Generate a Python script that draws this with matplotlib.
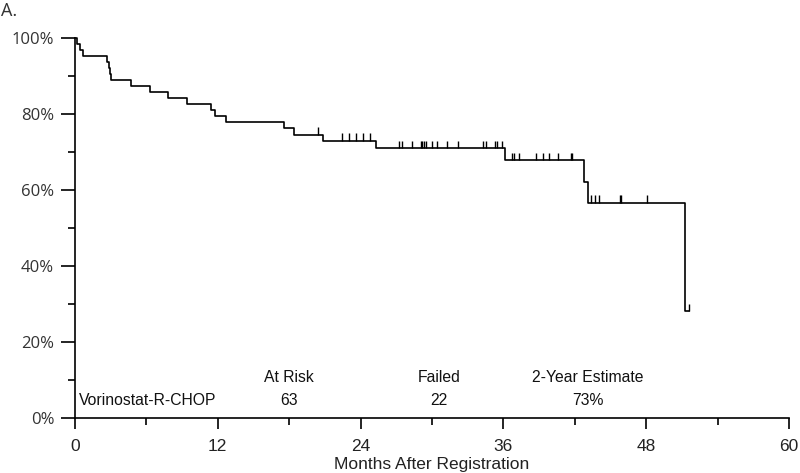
import matplotlib
matplotlib.use("Agg")
import matplotlib.pyplot as plt
import numpy as np

# Kaplan-Meier step data (months, survival fraction after each event)
event_times = [0.2, 0.42, 0.65, 2.71, 2.83, 2.94, 3.03, 4.7, 6.3, 7.8, 9.4, 11.4, 11.8,
               12.7, 17.6, 18.4, 20.8, 25.3, 36.1, 42.8, 43.1, 51.3]
event_surv = [0.984, 0.968, 0.953, 0.937, 0.921, 0.905, 0.889, 0.873, 0.857, 0.841, 0.825,
              0.810, 0.794, 0.778, 0.762, 0.746, 0.730, 0.711, 0.679, 0.622, 0.567, 0.282]
censor_times = [20.4, 22.4, 23.0, 23.6, 24.2, 24.8,
                27.2, 27.5, 28.3, 29.1, 29.2, 29.35, 29.5, 30.0, 30.4, 31.3, 32.2,
                34.3, 34.5, 35.3, 35.5, 35.85,
                36.75, 36.9, 37.3, 38.7, 39.3, 39.8, 40.6, 41.7, 41.8,
                43.4, 43.7, 44.0, 45.8, 45.9, 48.1, 51.57]
end_time = 51.57

x_ticks = [0, 12, 24, 36, 48, 60]
y_ticks = [0, 0.2, 0.4, 0.6, 0.8, 1.0]
y_tick_labels = ["0%", "20%", "40%", "60%", "80%", "100%"]

table_headers = ["At Risk", "Failed", "2-Year Estimate"]
group_name = "Vorinostat-R-CHOP"
table_values = ["63", "22", "73%"]

fig = plt.figure(figsize=(8.0, 4.73), dpi=100)
ax = fig.add_axes([75/800, 55/473, 714/800, 380/473])

t = np.concatenate([[0.0], event_times, [end_time]])
s = np.concatenate([[1.0], event_surv, [event_surv[-1]]])
ax.step(t, s, where="post", color="black", lw=1.2, clip_on=False, zorder=3)

ct = np.array(censor_times)
idx = np.searchsorted(np.array(event_times), ct, side="right")
levels = np.concatenate([[1.0], event_surv])[idx]
ax.vlines(ct, levels, levels + 0.019, color="black", lw=1.0, clip_on=False, zorder=3)

ax.set_xlim(0, 60)
ax.set_ylim(0, 1.0)
for sp in ["top", "right"]:
    ax.spines[sp].set_visible(False)
for sp in ["left", "bottom"]:
    ax.spines[sp].set_linewidth(1.2)

ax.set_xticks(x_ticks)
ax.set_xticklabels([str(v) for v in x_ticks], fontsize=12.5, family="Liberation Sans",
                   color="#222222")
ax.set_xticks(np.arange(6, 60, 12), minor=True)
ax.set_yticks(y_ticks)
ax.set_yticklabels(y_tick_labels, fontsize=12, family="Open Sans", color="#333333")
ax.set_yticks(np.arange(0.1, 1.0, 0.2), minor=True)
ax.tick_params(axis="x", which="major", length=8, width=1.2, pad=7)
ax.tick_params(axis="x", which="minor", length=5, width=1.2)
ax.tick_params(axis="y", which="major", length=10, width=1.2, pad=5)
ax.tick_params(axis="y", which="minor", length=5, width=1.2)

ax.set_xlabel("Months After Registration", fontsize=12.5, family="Liberation Sans",
              labelpad=2, color="#222222")

# risk table
hdr_x = [289, 439, 588]
for hx, h, v in zip(hdr_x, table_headers, table_values):
    fig.text(hx/800, 1 - 378/473, h, ha="center", va="center", fontsize=11.3,
             family="Liberation Sans", color="#111111")
    fig.text(hx/800, 1 - 400/473, v, ha="center", va="center", fontsize=11.3,
             family="Liberation Sans", color="#111111")
fig.text(79/800, 1 - 400/473, group_name, ha="left", va="center", fontsize=11.3,
         family="Liberation Sans", color="#111111")

fig.text(1/800, 1 - 11/473, "A.", ha="left", va="center", fontsize=13, family="Open Sans",
         color="#333333")

fig.savefig("out.png", dpi=100)
